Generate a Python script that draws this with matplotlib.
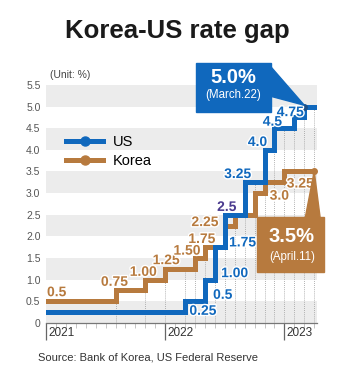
import numpy as np
import matplotlib
matplotlib.use("Agg")
import matplotlib.pyplot as plt
import matplotlib.patheffects as pe
from matplotlib.patches import Rectangle, Polygon
from matplotlib.lines import Line2D

plt.rcParams["font.family"] = ["Liberation Sans", "DejaVu Sans"]

# months counted from Jan 2021; each entry is the month a new rate starts
kr_month = [0, 7, 10, 12, 15, 16, 18, 19, 21, 22, 24, 27]
kr_rate = [0.5, 0.75, 1.0, 1.25, 1.5, 1.75, 2.25, 2.5, 3.0, 3.25, 3.5, 3.5]
us_month = [0, 14, 16, 17, 18, 20, 22, 23, 25, 26, 27]
us_rate = [0.25, 0.5, 1.0, 1.75, 2.5, 3.25, 4.0, 4.5, 4.75, 5.0, 5.0]

kr_labels = ["0.5", "0.75", "1.00", "1.25", "1.50", "1.75", "2.25", "3.0", "3.25"]
us_labels = ["0.25", "0.5", "1.00", "1.75", "3.25", "4.0", "4.5", "4.75"]
both_label = "2.5"

years = ["2021", "2022", "2023"]
year_month = [0, 12, 24]
yticks = [0, 0.5, 1.0, 1.5, 2.0, 2.5, 3.0, 3.5, 4.0, 4.5, 5.0, 5.5]
ytick_labels = ["0", "0.5", "1.0", "1.5", "2.0", "2.5", "3.0", "3.5", "4.0", "4.5", "5.0", "5.5"]

# label placement (x in months, y in %)
kr_pos = [(0.1, 0.71, "left"), (6.9, 0.95, "center"), (9.8, 1.18, "center"),
          (12.1, 1.45, "center"), (14.2, 1.67, "center"), (15.7, 1.94, "center"),
          (16.0, 2.33, "center"), (23.5, 2.94, "center"), (25.6, 3.22, "center")]
us_pos = [(15.8, 0.28), (17.8, 0.65), (19.0, 1.15), (19.8, 1.86),
          (19.3, 3.44), (21.3, 4.18), (22.8, 4.65), (24.6, 4.87)]
both_pos = (18.2, 2.68)

US = "#1068bd"
KR = "#b77a3e"
PURPLE = "#4a3a8e"


def level(months, rates, m):
    i = np.searchsorted(months, m, side="right") - 1
    return rates[i]


fig = plt.figure(figsize=(3.54, 3.84), dpi=100)
ax = fig.add_axes([0.130, 0.159, 0.766, 0.620])
ax.set_xlim(0, 27.3)
ax.set_ylim(0, 5.5)

for lo in [0, 1, 2, 3, 4, 5]:
    ax.axhspan(lo, lo + 0.5, color="#ececec", lw=0, zorder=0)

# dotted guides at every rate change
changes = sorted(set(kr_month[1:]) | set(us_month[1:]))
tops = [max(level(kr_month, kr_rate, m), level(us_month, us_rate, m)) for m in changes]
ax.vlines(changes, 0, tops, colors="#9a9a9a", linestyles=(0, (1, 1.5)), lw=0.6, zorder=1)

ax.step(kr_month, kr_rate, where="post", color=KR, lw=3.6, zorder=3,
        solid_joinstyle="miter")
ax.step(us_month, us_rate, where="post", color=US, lw=3.6, zorder=4,
        solid_joinstyle="miter")
ax.plot(us_month[-2], us_rate[-2], "o", color="#1d4f86", ms=4, zorder=6)
ax.plot(kr_month[-1], kr_rate[-1], "o", color=KR, ms=4, zorder=6, clip_on=False)

stroke = [pe.withStroke(linewidth=2, foreground="white")]
for t, (x, y, ha) in zip(kr_labels, kr_pos):
    ax.text(x, y, t, color=KR, fontsize=10, fontweight="bold", ha=ha, va="center",
            path_effects=stroke, zorder=7)
for t, (x, y) in zip(us_labels, us_pos):
    ax.text(x, y, t, color=US, fontsize=10, fontweight="bold", ha="center", va="center",
            path_effects=stroke, zorder=7)
ax.text(both_pos[0], both_pos[1], both_label, color=PURPLE, fontsize=10,
        fontweight="bold", ha="center", va="center", path_effects=stroke, zorder=7)

# callout boxes
ax.add_patch(Rectangle((15.1, 4.87), 7.5, 1.13, color=US, clip_on=False, zorder=8))
ax.add_patch(Polygon([(22.4, 5.98), (us_month[-2], us_rate[-2] + 0.03), (22.4, 5.25)],
                     closed=True, color=US, clip_on=False, zorder=8))
ax.text(18.85, 5.67, "5.0%", color="white", fontsize=14.5, fontweight="bold",
        ha="center", va="center", zorder=9)
ax.text(18.85, 5.26, "(March.22)", color="white", fontsize=8.3, ha="center",
        va="center", zorder=9)

ax.add_patch(Rectangle((21.2, 1.18), 6.8, 1.27, color=KR, clip_on=False, zorder=8))
ax.add_patch(Polygon([(26.1, 2.43), (kr_month[-1], kr_rate[-1]), (27.6, 2.43)],
                     closed=True, color=KR, clip_on=False, zorder=8))
ax.text(24.75, 2.0, "3.5%", color="white", fontsize=14.5, fontweight="bold",
        ha="center", va="center", zorder=9)
ax.text(24.75, 1.53, "(April.11)", color="white", fontsize=8.3, ha="center",
        va="center", zorder=9)

# axes styling
for s in ["top", "right", "left"]:
    ax.spines[s].set_visible(False)
ax.spines["bottom"].set_color("#777777")
ax.spines["bottom"].set_linewidth(0.9)
ax.set_yticks(yticks)
ax.set_yticklabels(ytick_labels)
ax.tick_params(axis="y", length=0, pad=4, labelsize=7.5, labelcolor="#555555")
ax.set_xticks(year_month)
ax.set_xticklabels([])
ax.set_xticks(np.arange(0, 28), minor=True)
ax.tick_params(axis="x", which="major", direction="out", length=12, width=0.9,
               color="#666666")
ax.tick_params(axis="x", which="minor", direction="out", length=3.5, width=0.6,
               color="#bbbbbb")
trans = ax.get_xaxis_transform()
for m, y in zip(year_month, years):
    ax.text(m + 0.25, -0.018, y, fontsize=8.5, color="#333333", ha="left", va="top",
            transform=trans)

handles = [Line2D([], [], color=US, lw=3.6, marker="o", ms=6.5),
           Line2D([], [], color=KR, lw=3.6, marker="o", ms=6.5)]
ax.legend(handles, ["US", "Korea"], loc="upper left", bbox_to_anchor=(0.075, 0.79),
          frameon=False, fontsize=10.5, handlelength=2.5, handletextpad=0.7,
          labelspacing=0.35, borderpad=0, borderaxespad=0)

fig.text(0.14, 0.805, "(Unit: %)", fontsize=7.5, color="#444444", ha="left", va="center")
fig.text(0.5, 0.92, "Korea-US rate gap", fontsize=18.5, fontweight="bold",
         color="#1a1a1a", ha="center", va="center")
fig.text(0.107, 0.068, "Source: Bank of Korea, US Federal Reserve", fontsize=8,
         color="#333333", ha="left", va="center")

fig.savefig("out.png", dpi=100)
